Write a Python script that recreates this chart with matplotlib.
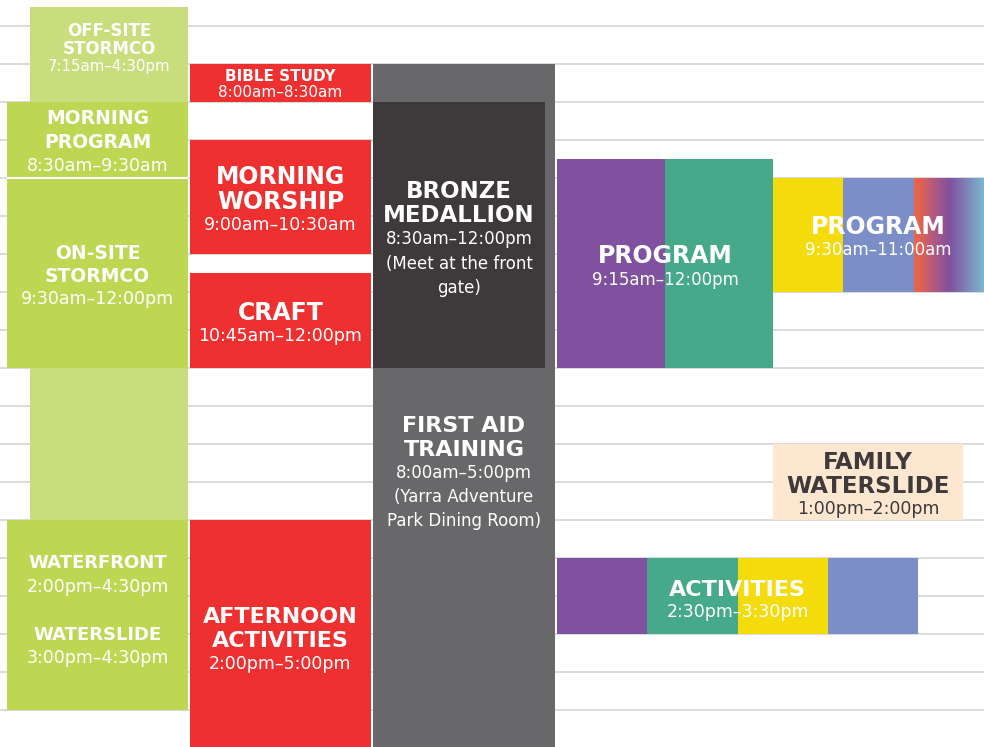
import numpy as np
import matplotlib
matplotlib.use("Agg")
import matplotlib.pyplot as plt
from matplotlib.colors import to_rgb

# ---------------- data ----------------
titles = ["OFF-SITE\nSTORMCO", "MORNING\nPROGRAM", "ON-SITE\nSTORMCO", "WATERFRONT", "WATERSLIDE",
          "BIBLE STUDY", "MORNING\nWORSHIP", "CRAFT", "AFTERNOON\nACTIVITIES",
          "FIRST AID\nTRAINING", "BRONZE\nMEDALLION", "PROGRAM", "PROGRAM",
          "FAMILY\nWATERSLIDE", "ACTIVITIES"]
time_labels = ["7:15am–4:30pm", "8:30am–9:30am", "9:30am–12:00pm", "2:00pm–4:30pm", "3:00pm–4:30pm",
               "8:00am–8:30am", "9:00am–10:30am", "10:45am–12:00pm", "2:00pm–5:00pm",
               "8:00am–5:00pm", "8:30am–12:00pm", "9:15am–12:00pm", "9:30am–11:00am",
               "1:00pm–2:00pm", "2:30pm–3:30pm"]
notes = ["", "", "", "", "", "", "", "", "",
         "(Yarra Adventure\nPark Dining Room)", "(Meet at the front\ngate)", "", "", "", ""]
start_h = [7.25, 8.5, 9.5, 14.0, 15.0, 8.0, 9.0, 10.75, 14.0, 8.0, 8.5, 9.25, 9.5, 13.0, 14.5]
end_h = [16.5, 9.5, 12.0, 16.5, 16.5, 8.5, 10.5, 12.0, 17.0, 17.0, 12.0, 12.0, 11.0, 14.0, 15.5]
grid_hours = [7.5, 8.0, 8.5, 9.0, 9.5, 10.0, 10.5, 11.0, 11.5, 12.0, 12.5, 13.0, 13.5,
              14.0, 14.5, 15.0, 15.5, 16.0, 16.5]

# ---------------- styles / layout ----------------
LGREEN = "#C8DE7C"; GREEN = "#BDD753"; RED = "#EE3030"; GRAY = "#68686A"; DARK = "#3E393A"
PURPLE = "#7F519F"; TEAL = "#45A98A"; YELLOW = "#F4DB0C"; BLUE = "#7B8EC8"; PEACH = "#FDE7D0"
GRAD = "gradient"

# x-extent (px), fill colours, title size, time size, line gap(px), text centre (hours), text colour, zorder
layout = [
    dict(x=(30, 188), cols=[LGREEN], ts=12, ms=10.8, gap=18, th=7.78, tc="white", z=1),
    dict(x=(7, 188), cols=[GREEN], ts=13.5, ms=12.5, gap=24, th=9.01, tc="white", z=2),
    dict(x=(7, 188), cols=[GREEN], ts=13.5, ms=12.5, gap=23.5, th=10.77, tc="white", z=2),
    dict(x=(7, 188), cols=[GREEN], ts=13, ms=12.5, gap=25, th=14.70, tc="white", z=2),
    dict(x=(7, 188), cols=[], ts=13, ms=12.5, gap=24, th=15.64, tc="white", z=2),
    dict(x=(190, 371), cols=[RED], ts=11, ms=11, gap=17, th=8.25, tc="white", z=2),
    dict(x=(190, 371), cols=[RED], ts=17, ms=12.5, gap=24.5, th=9.789, tc="white", z=2),
    dict(x=(190, 371), cols=[RED], ts=17, ms=12.5, gap=24, th=11.408, tc="white", z=2),
    dict(x=(190, 371), cols=[RED], ts=16, ms=12.5, gap=24, th=15.566, tc="white", z=2),
    dict(x=(373, 555), cols=[GRAY], ts=16, ms=12, gap=24, th=13.368, tc="white", z=2),
    dict(x=(373, 545), cols=[DARK], ts=16.5, ms=12, gap=24.5, th=10.29, tc="white", z=3),
    dict(x=(557, 773), cols=[PURPLE, TEAL], ts=17, ms=12, gap=25, th=10.66, tc="white", z=2),
    dict(x=(773, 984), cols=[YELLOW, BLUE, GRAD], ts=17, ms=12, gap=24, th=10.27, tc="white", z=2),
    dict(x=(773, 963), cols=[PEACH], ts=16.5, ms=12.5, gap=24, th=13.53, tc=DARK, z=2),
    dict(x=(557, 918), cols=[PURPLE, TEAL, YELLOW, BLUE], ts=16, ms=12.5, gap=23, th=15.04, tc="white", z=2),
]

FONT = "DejaVu Sans"

fig = plt.figure(figsize=(9.84, 7.47), dpi=100)
ax = fig.add_axes([0, 0, 1, 1])

# grid lines
ax.hlines(grid_hours, 0, 984, color="#DADADA", lw=1.4, zorder=0)

def gradient_img(n=300):
    stops = [(0.0, "#EC6649"), (0.08, "#E2634F"), (0.27, "#B45A80"), (0.5, PURPLE), (1.0, "#7CBBD0")]
    pos = np.array([s[0] for s in stops])
    cols = np.array([to_rgb(s[1]) for s in stops])
    t = np.linspace(0, 1, n)
    img = np.stack([np.interp(t, pos, cols[:, k]) for k in range(3)], axis=-1)
    return img[np.newaxis, :, :]

for i, lay in enumerate(layout):
    x0, x1 = lay["x"]
    cols = lay["cols"]
    if cols:
        w = (x1 - x0) / len(cols)
        for k, c in enumerate(cols):
            if c == GRAD:
                ax.imshow(gradient_img(), extent=(x0 + k * w, x0 + (k + 1) * w, end_h[i], start_h[i]),
                          aspect="auto", zorder=lay["z"], interpolation="bilinear")
            else:
                ax.bar(x0 + k * w, end_h[i] - start_h[i], width=w, bottom=start_h[i],
                       align="edge", color=c, linewidth=0, zorder=lay["z"])

# white separator between morning program and on-site stormco
ax.hlines(9.5, 7, 188, color="white", lw=1.5, zorder=2.5)

# texts
for i, lay in enumerate(layout):
    x0, x1 = lay["x"]
    xc = (x0 + x1) / 2
    lines = [(t, "bold", lay["ts"]) for t in titles[i].split("\n")]
    lines.append((time_labels[i], "normal", lay["ms"]))
    if notes[i]:
        lines += [(t, "normal", lay["ms"]) for t in notes[i].split("\n")]
    n = len(lines)
    for j, (txt, wt, sz) in enumerate(lines):
        off = -((j - (n - 1) / 2) * lay["gap"]) - (2 if wt == "bold" else 1)
        ax.annotate(txt, xy=(xc, lay["th"]), xytext=(0, off), textcoords="offset pixels",
                    ha="center", va="center", fontsize=sz, fontweight=wt, color=lay["tc"],
                    family=FONT, zorder=10)

ax.set_xlim(0, 984)
ax.set_ylim(16.987, 7.158)
ax.axis("off")
fig.savefig("out.png", dpi=100)
